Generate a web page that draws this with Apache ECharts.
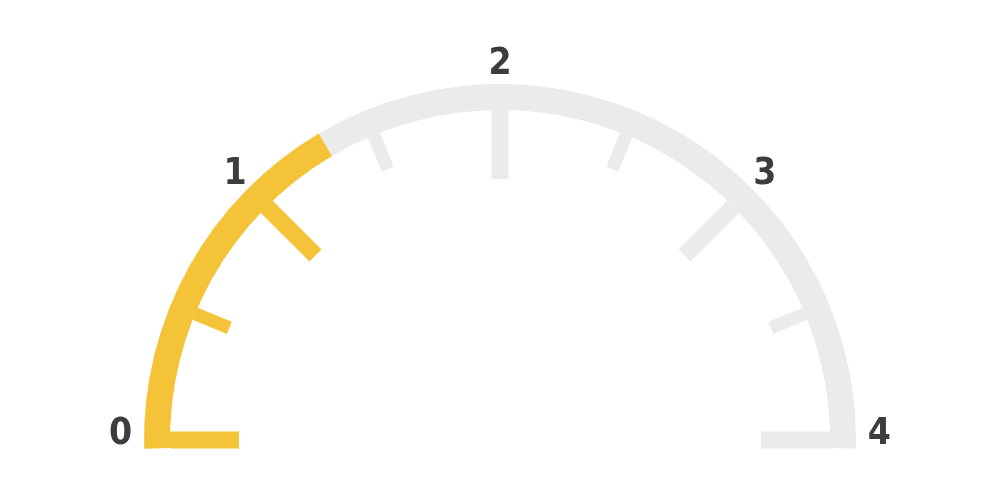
<!DOCTYPE html>
<html>
<head>
<meta charset="utf-8">
<script src="https://cdn.jsdelivr.net/npm/echarts@6/dist/echarts.min.js"></script>
<style>html,body{margin:0;padding:0;background:#fff}#c{width:1000px;height:500px}</style>
</head>
<body>
<div id="c"></div>
<script>
// data
const gaugeValues = [1.32];
const axisMin = 0;
const axisMax = 4;
const splitCount = 4;

const YELLOW = '#F4C337';
const GREY = '#EBEBEB';
const frac = gaugeValues[0] / (axisMax - axisMin);
// background arc slightly extended below the horizontal
const extStart = 181.4, extEnd = -1.4;
const valAngle = 180 - frac * 180;
const extFrac = (extStart - valAngle) / (extStart - extEnd);

const chart = echarts.init(document.getElementById('c'), null, {renderer: 'canvas'});
const R = 356, W = 26;
const FONT = '"Liberation Sans Narrow", "DejaVu Sans Condensed", sans-serif';
const base = {color: '#3d3d3d', fontFamily: FONT, fontWeight: 'bold', fontSize: 37};
chart.setOption({
  animation: false,
  series: [
    {
      type: 'gauge',
      center: [500, 440],
      radius: R,
      startAngle: extStart,
      endAngle: extEnd,
      min: axisMin, max: axisMax,
      axisLine: {lineStyle: {width: W, color: [[extFrac, YELLOW], [1, GREY]]}},
      splitLine: {show: false}, axisTick: {show: false}, axisLabel: {show: false},
      pointer: {show: false}, title: {show: false}, detail: {show: false},
      data: [{value: gaugeValues[0]}]
    },
    {
      type: 'gauge',
      center: [500, 440],
      radius: R,
      startAngle: 180,
      endAngle: 0,
      min: axisMin, max: axisMax,
      splitNumber: splitCount,
      axisLine: {show: false, lineStyle: {width: W, color: [[frac, YELLOW], [1, GREY]]}},
      splitLine: {show: true, distance: 0, length: 69, lineStyle: {color: 'auto', width: 17}},
      axisTick: {show: true, distance: 0, length: 37, splitNumber: 2, lineStyle: {color: 'auto', width: 13}},
      axisLabel: {
        show: true, distance: -104,
        color: '#3d3d3d', fontFamily: FONT, fontWeight: 'bold', fontSize: 37,
        formatter: function (v) {
          const k = Math.round(v);
          const key = (k === 0 || k === 4) ? 'side' : (k === 2 ? 'top' : 'diag');
          return '{' + key + '|' + k + '}';
        },
        rich: {
          side: Object.assign({}, base, {padding: [0, 0, 12, 0]}),
          diag: Object.assign({}, base, {padding: [21, 0, 0, 0]}),
          top: Object.assign({}, base, {lineHeight: 30})
        }
      },
      pointer: {show: false}, title: {show: false}, detail: {show: false},
      data: [{value: gaugeValues[0]}]
    }
  ]
});
</script>
</body>
</html>
